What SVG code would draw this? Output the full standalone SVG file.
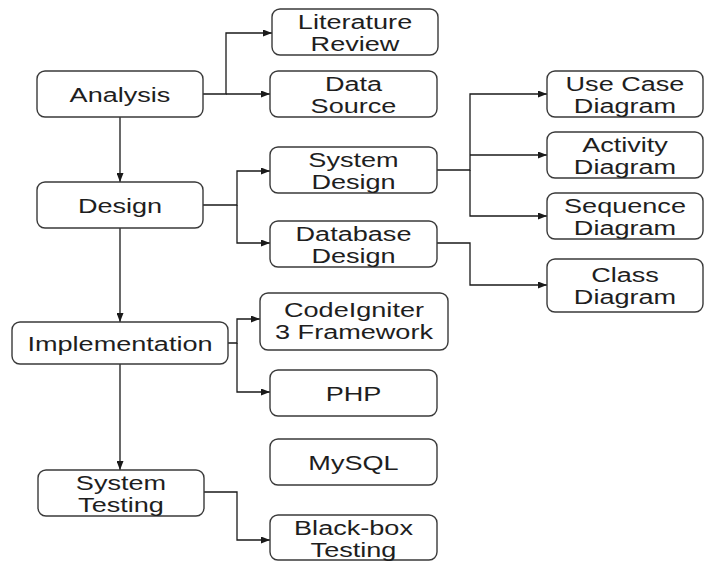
<svg xmlns="http://www.w3.org/2000/svg" width="705" height="561" viewBox="0 0 705 561">
<style>
.box{fill:#fff;stroke:#3a3a3a;stroke-width:1.4}
.t{font-family:"Liberation Sans",Arial,sans-serif;font-size:21px;fill:#1e1e1e;text-anchor:middle}
.c{fill:none;stroke:#1a1a1a;stroke-width:1.3;marker-end:url(#ah)}
.cn{fill:none;stroke:#1a1a1a;stroke-width:1.3}
</style>
<defs>
<marker id="ah" markerUnits="userSpaceOnUse" markerWidth="9" markerHeight="7" refX="9" refY="3.5" orient="auto">
<path d="M0,0 L9,3.5 L0,7 z" fill="#1a1a1a"/>
</marker>
</defs>
<rect width="705" height="561" fill="#fff"/>
<g id="connectors">
<path class="c" d="M203,94 H226 V33 H272"/>
<path class="c" d="M226,94 H270"/>
<path class="c" d="M120,117 V182"/>
<path class="c" d="M203,205 H237 V171 H270"/>
<path class="c" d="M237,205 V243 H270"/>
<path class="c" d="M120,228 V322"/>
<path class="c" d="M437,170 H470 V94 H547"/>
<path class="c" d="M470,155 H547"/>
<path class="c" d="M470,170 V216 H547"/>
<path class="c" d="M437,243 H470 V285 H547"/>
<path class="c" d="M228,343 H237 V319 H260"/>
<path class="c" d="M237,343 V392 H270"/>
<path class="c" d="M120,364 V470"/>
<path class="c" d="M204,492 H237 V540 H270"/>
</g>
<g id="analysis"><rect class="box" x="37" y="71" width="166" height="46" rx="8"/><text class="t" transform="translate(120,101.5) scale(1.29,1)">Analysis</text></g>
<g id="literature-review"><rect class="box" x="272" y="9" width="166" height="46" rx="8"/><text class="t" transform="translate(355,28.5) scale(1.29,1)">Literature</text><text class="t" transform="translate(355,51) scale(1.29,1)">Review</text></g>
<g id="data-source"><rect class="box" x="270" y="71" width="167" height="46" rx="8"/><text class="t" transform="translate(353.5,90.5) scale(1.29,1)">Data</text><text class="t" transform="translate(353.5,113) scale(1.29,1)">Source</text></g>
<g id="design"><rect class="box" x="37" y="182" width="166" height="46" rx="8"/><text class="t" transform="translate(120,212.5) scale(1.29,1)">Design</text></g>
<g id="system-design"><rect class="box" x="270" y="147" width="167" height="46" rx="8"/><text class="t" transform="translate(353.5,166.5) scale(1.29,1)">System</text><text class="t" transform="translate(353.5,189) scale(1.29,1)">Design</text></g>
<g id="database-design"><rect class="box" x="270" y="221" width="167" height="46" rx="8"/><text class="t" transform="translate(353.5,240.5) scale(1.29,1)">Database</text><text class="t" transform="translate(353.5,263) scale(1.29,1)">Design</text></g>
<g id="use-case-diagram"><rect class="box" x="547" y="71" width="156" height="46" rx="8"/><text class="t" transform="translate(625,90.5) scale(1.29,1)">Use Case</text><text class="t" transform="translate(625,113) scale(1.29,1)">Diagram</text></g>
<g id="activity-diagram"><rect class="box" x="547" y="132" width="156" height="46" rx="8"/><text class="t" transform="translate(625,151.5) scale(1.29,1)">Activity</text><text class="t" transform="translate(625,174) scale(1.29,1)">Diagram</text></g>
<g id="sequence-diagram"><rect class="box" x="547" y="193" width="156" height="46" rx="8"/><text class="t" transform="translate(625,212.5) scale(1.29,1)">Sequence</text><text class="t" transform="translate(625,235) scale(1.29,1)">Diagram</text></g>
<g id="class-diagram"><rect class="box" x="547" y="259" width="156" height="53" rx="8"/><text class="t" transform="translate(625,281.5) scale(1.29,1)">Class</text><text class="t" transform="translate(625,304) scale(1.29,1)">Diagram</text></g>
<g id="implementation"><rect class="box" x="12" y="322" width="216" height="42" rx="8"/><text class="t" transform="translate(120,350.5) scale(1.29,1)">Implementation</text></g>
<g id="codeigniter"><rect class="box" x="260" y="293" width="188" height="57" rx="8"/><text class="t" transform="translate(354,316.5) scale(1.29,1)">CodeIgniter</text><text class="t" transform="translate(354,339) scale(1.29,1)">3 Framework</text></g>
<g id="php"><rect class="box" x="270" y="370" width="167" height="46" rx="8"/><text class="t" transform="translate(353.5,400.5) scale(1.29,1)">PHP</text></g>
<g id="mysql"><rect class="box" x="270" y="439" width="167" height="46" rx="8"/><text class="t" transform="translate(353.5,469.5) scale(1.29,1)">MySQL</text></g>
<g id="system-testing"><rect class="box" x="38" y="470" width="166" height="46" rx="8"/><text class="t" transform="translate(121,489.5) scale(1.29,1)">System</text><text class="t" transform="translate(121,512) scale(1.29,1)">Testing</text></g>
<g id="black-box-testing"><rect class="box" x="270" y="515" width="167" height="45" rx="8"/><text class="t" transform="translate(353.5,534.5) scale(1.29,1)">Black-box</text><text class="t" transform="translate(353.5,557) scale(1.29,1)">Testing</text></g>
</svg>
